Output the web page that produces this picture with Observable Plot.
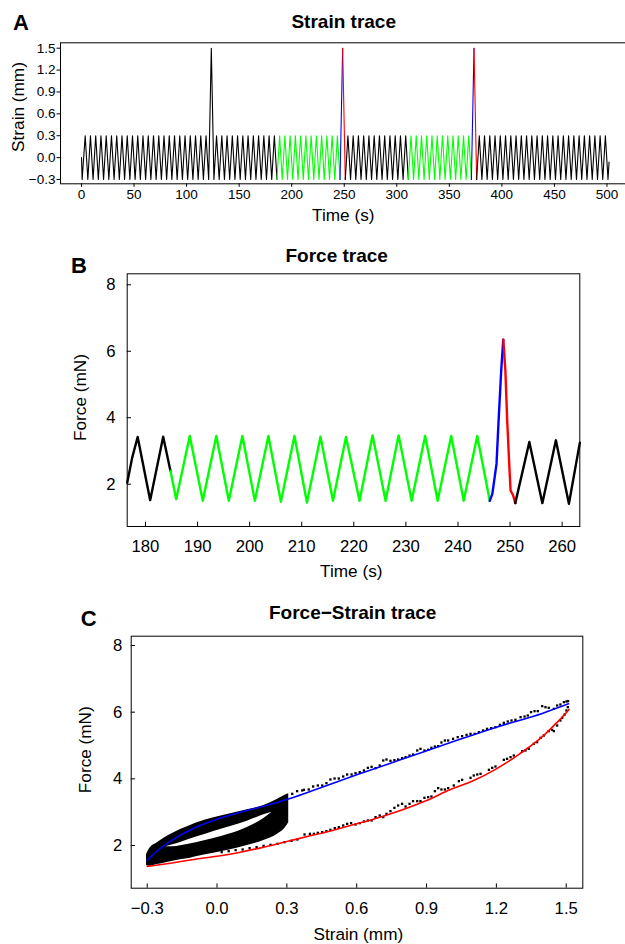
<!DOCTYPE html>
<html><head><meta charset="utf-8">
<script src="https://cdn.jsdelivr.net/npm/d3@7"></script>
<script src="https://cdn.jsdelivr.net/npm/@observablehq/plot@0.6"></script>
<style>
html,body{margin:0;padding:0;background:#fff;overflow:hidden;}
#fig{position:relative;width:625px;height:944px;overflow:hidden;background:#fff;}
#fig svg{position:absolute;left:0;}
</style></head><body><div id="fig"></div>
<script>
// ---------------- Panel A: strain trace (turning points) ----------------
const strainTime = [0, 0.6,
  3.5, 6, 8.5, 11, 13.5, 16, 18.5, 21, 23.5, 26,
  28.5, 31, 33.5, 36, 38.5, 41, 43.5, 46, 48.5, 51,
  53.5, 56, 58.5, 61, 63.5, 66, 68.5, 71, 73.5, 76,
  78.5, 81, 83.5, 86, 88.5, 91, 93.5, 96, 98.5, 101,
  103.5, 106, 108.5, 111, 113.5, 116, 118.5, 121, 123.5, 126,
  128.5, 131, 133.5, 136, 138.5, 141, 143.5, 146, 148.5, 151,
  153.5, 156, 158.5, 161, 163.5, 166, 168.5, 171, 173.5, 176,
  178.5, 181, 183.5, 186, 188.5, 191, 193.5, 196, 198.5, 201,
  203.5, 206, 208.5, 211, 213.5, 216, 218.5, 221, 223.5, 226,
  228.5, 231, 233.5, 236, 238.5, 241, 243.5, 246, 248.5, 251,
  253.5, 256, 258.5, 261, 263.5, 266, 268.5, 271, 273.5, 276,
  278.5, 281, 283.5, 286, 288.5, 291, 293.5, 296, 298.5, 301,
  303.5, 306, 308.5, 311, 313.5, 316, 318.5, 321, 323.5, 326,
  328.5, 331, 333.5, 336, 338.5, 341, 343.5, 346, 348.5, 351,
  353.5, 356, 358.5, 361, 363.5, 366, 368.5, 371, 373.5, 376,
  378.5, 381, 383.5, 386, 388.5, 391, 393.5, 396, 398.5, 401,
  403.5, 406, 408.5, 411, 413.5, 416, 418.5, 421, 423.5, 426,
  428.5, 431, 433.5, 436, 438.5, 441, 443.5, 446, 448.5, 451,
  453.5, 456, 458.5, 461, 463.5, 466, 468.5, 471, 473.5, 476,
  478.5, 481, 483.5, 486, 488.5, 491, 493.5, 496, 498.5, 501,
  502];
const strainValue = [0, -0.3,
  0.3,-0.3,0.3,-0.3,0.3,-0.3,0.3,-0.3,0.3,-0.3,
  0.3,-0.3,0.3,-0.3,0.3,-0.3,0.3,-0.3,0.3,-0.3,
  0.3,-0.3,0.3,-0.3,0.3,-0.3,0.3,-0.3,0.3,-0.3,
  0.3,-0.3,0.3,-0.3,0.3,-0.3,0.3,-0.3,0.3,-0.3,
  0.3,-0.3,0.3,-0.3,0.3,-0.3,0.3,-0.3,1.5,-0.3,
  0.3,-0.3,0.3,-0.3,0.3,-0.3,0.3,-0.3,0.3,-0.3,
  0.3,-0.3,0.3,-0.3,0.3,-0.3,0.3,-0.3,0.3,-0.3,
  0.3,-0.3,0.3,-0.3,0.3,-0.3,0.3,-0.3,0.3,-0.3,
  0.3,-0.3,0.3,-0.3,0.3,-0.3,0.3,-0.3,0.3,-0.3,
  0.3,-0.3,0.3,-0.3,0.3,-0.3,0.3,-0.3,1.5,-0.3,
  0.3,-0.3,0.3,-0.3,0.3,-0.3,0.3,-0.3,0.3,-0.3,
  0.3,-0.3,0.3,-0.3,0.3,-0.3,0.3,-0.3,0.3,-0.3,
  0.3,-0.3,0.3,-0.3,0.3,-0.3,0.3,-0.3,0.3,-0.3,
  0.3,-0.3,0.3,-0.3,0.3,-0.3,0.3,-0.3,0.3,-0.3,
  0.3,-0.3,0.3,-0.3,0.3,-0.3,0.3,-0.3,1.5,-0.3,
  0.3,-0.3,0.3,-0.3,0.3,-0.3,0.3,-0.3,0.3,-0.3,
  0.3,-0.3,0.3,-0.3,0.3,-0.3,0.3,-0.3,0.3,-0.3,
  0.3,-0.3,0.3,-0.3,0.3,-0.3,0.3,-0.3,0.3,-0.3,
  0.3,-0.3,0.3,-0.3,0.3,-0.3,0.3,-0.3,0.3,-0.3,
  0.3,-0.3,0.3,-0.3,0.3,-0.3,0.3,-0.3,0.3,-0.3,
  -0.06];
const strainSegBounds = [0, 186, 246, 248.5, 251, 311, 371, 373.5, 376, 502];
const strainSegColors = ["#000000","#00ff00","#0000ff","#ff0000","#000000","#00ff00","#0000ff","#ff0000","#000000"];
const timeTicksA = [0, 50, 100, 150, 200, 250, 300, 350, 400, 450, 500];
const strainTicks = [-0.3, 0, 0.3, 0.6, 0.9, 1.2, 1.5];

// ---------------- Panel B: force trace ----------------
const forceTime = [176.5, 177.45, 178.5, 180.9, 183.4, 184.8, 185.9, 188.5, 191.0, 193.6,
  196.0, 198.6, 201.0, 203.6, 206.0, 208.6, 211.0, 213.6, 216.0, 218.5,
  221.1, 223.6, 226.1, 228.6, 231.1, 233.7, 236.1, 238.7, 241.1, 243.7,
  246.1, 246.6, 247.4, 247.8, 248.3, 248.7, 249.1, 249.45, 249.9, 250.1,
  250.6, 251.0, 253.7, 256.2, 258.8, 261.3, 263.4];
const forceValue = [2.05, 2.8, 3.42, 1.52, 3.43, 2.4, 1.55, 3.45, 1.5, 3.45,
  1.5, 3.45, 1.5, 3.45, 1.47, 3.45, 1.45, 3.43, 1.5, 3.42,
  1.5, 3.47, 1.5, 3.47, 1.5, 3.45, 1.5, 3.45, 1.5, 3.45,
  1.5, 1.71, 2.61, 3.92, 5.42, 6.35, 5.42, 3.92, 2.41, 1.81,
  1.66, 1.43, 3.27, 1.43, 3.32, 1.41, 3.25];
const forceSegBounds = [176.5, 184.8, 246.1, 248.7, 251.0, 263.4];
const forceSegColors = ["#000000","#00ff00","#0000ff","#ff0000","#000000"];
const timeTicksB = [180, 190, 200, 210, 220, 230, 240, 250, 260];
const forceTicks = [2, 4, 6, 8];

// ---------------- Panel C: force-strain ----------------
const loadStrain = [-0.3, -0.25, -0.2, -0.1, 0, 0.1, 0.2, 0.3, 0.4, 0.6, 0.8, 1.0, 1.2, 1.4, 1.51];
const loadForce  = [1.55, 1.88, 2.13, 2.52, 2.79, 3.0, 3.18, 3.38, 3.62, 4.12, 4.6, 5.08, 5.55, 5.97, 6.25];
const unloadStrain = [-0.3, -0.2, -0.1, 0, 0.1, 0.2, 0.3, 0.4, 0.5, 0.6, 0.7, 0.8, 0.9, 1.0, 1.1, 1.2, 1.3, 1.4, 1.45, 1.5, 1.512];
const unloadForce  = [1.37, 1.47, 1.58, 1.68, 1.80, 1.95, 2.12, 2.29, 2.46, 2.65, 2.85, 3.08, 3.35, 3.67, 3.94, 4.30, 4.75, 5.28, 5.62, 5.98, 6.08];
// dense cycling cloud (outer envelope) and the empty lens inside it
const bandStrain = [-0.303, -0.29, -0.257, -0.228, -0.2, -0.157, -0.114, -0.085, -0.014, 0.058, 0.13, 0.201, 0.258, 0.29, 0.308];
const bandLow    = [1.40, 1.38, 1.43, 1.47, 1.51, 1.57, 1.62, 1.67, 1.77, 1.87, 2.0, 2.15, 2.33, 2.5, 2.68];
const bandHigh   = [1.72, 1.90, 2.08, 2.22, 2.33, 2.48, 2.60, 2.68, 2.83, 2.95, 3.07, 3.20, 3.38, 3.5, 3.55];
const holeStrain = [-0.221, -0.19, -0.157, -0.085, -0.014, 0.058, 0.13, 0.201, 0.236];
const holeLow    = [1.96, 1.96, 1.99, 2.09, 2.21, 2.35, 2.54, 2.81, 3.0];
const holeHigh   = [1.96, 2.02, 2.09, 2.26, 2.42, 2.57, 2.73, 2.92, 3.0];
// individual samples along the large loops
const dotStrain = [0.323,0.344,0.366,0.373,0.394,0.413,0.433,0.452,0.470,0.487,0.505,0.523,0.542,0.559,0.578,0.595,0.613,0.631,0.648,0.664,0.681,0.699,0.714,0.728,0.745,0.762,0.778,0.795,0.810,0.827,0.842,0.860,0.874,0.891,0.907,0.921,0.936,0.950,0.964,0.979,0.993,
  1.014,1.034,1.053,1.072,1.089,1.107,1.125,1.143,1.160,1.178,1.196,1.215,1.232,1.249,1.265,1.282,1.304,1.321,1.335,1.349,1.364,1.378,1.397,1.411,1.425,1.447,1.461,1.475,1.490,1.501,1.508,
  0.02,0.05,0.08,0.11,0.14,0.17,0.20,0.23,0.26,0.29,0.32,0.345,0.376,0.399,0.416,0.433,0.452,0.470,0.487,0.506,0.523,0.542,0.559,0.576,0.595,0.613,0.631,0.648,0.664,0.681,0.699,0.714,0.728,0.745,0.762,0.778,0.795,0.810,0.827,0.842,0.860,0.874,0.891,0.907,0.921,0.936,0.950,0.964,0.979,0.993,
  1.017,1.039,1.053,1.089,1.103,1.118,1.132,1.168,1.182,1.196,1.232,1.246,1.261,1.275,1.311,1.325,1.339,1.361,1.375,1.390,1.404,1.425,1.440,1.447,1.461,1.475,1.483,1.493,1.501,1.507];
const dotForce = [3.55,3.63,3.65,3.67,3.68,3.77,3.80,3.80,3.87,3.98,4.01,4.01,4.07,4.13,4.13,4.17,4.20,4.25,4.33,4.36,4.32,4.40,4.55,4.58,4.54,4.56,4.58,4.62,4.65,4.70,4.73,4.85,4.90,4.85,4.87,4.93,4.97,4.98,5.09,5.15,5.15,
  5.20,5.25,5.28,5.32,5.35,5.35,5.40,5.45,5.50,5.52,5.55,5.62,5.68,5.72,5.75,5.77,5.85,5.87,5.90,6.00,6.03,6.03,6.18,6.15,6.13,6.10,6.20,6.23,6.30,6.32,6.33,
  1.80,1.83,1.86,1.88,1.92,1.95,1.99,2.02,2.05,2.10,2.14,2.18,2.33,2.35,2.35,2.38,2.40,2.43,2.47,2.52,2.55,2.60,2.65,2.67,2.63,2.67,2.72,2.75,2.75,2.85,2.90,2.85,2.95,3.03,3.13,3.20,3.25,3.17,3.25,3.33,3.33,3.33,3.43,3.45,3.47,3.63,3.72,3.68,3.68,3.72,
  3.80,3.93,3.97,4.03,4.10,4.13,4.15,4.27,4.33,4.37,4.57,4.60,4.65,4.70,4.83,4.85,4.90,5.05,5.10,5.23,5.30,5.43,5.47,5.43,5.60,5.75,5.83,5.93,6.05,6.15];
const strainTicksC = [-0.3, 0, 0.3, 0.6, 0.9, 1.2, 1.5];

// ---------------- build ----------------
const FONT = '"Liberation Sans", Arial, Helvetica, sans-serif';
const fig = document.getElementById("fig");

function segRows(times, values, bounds, colors) {
  const rows = [];
  for (let s = 0; s < colors.length; s++) {
    for (let i = 0; i < times.length; i++) {
      if (times[i] >= bounds[s] && times[i] <= bounds[s + 1]) rows.push({t: times[i], v: values[i], seg: s, color: colors[s]});
    }
  }
  return rows;
}
function place(svg, top) {
  svg.style.position = "absolute";
  svg.style.left = "0px";
  svg.style.top = top + "px";
  svg.style.maxWidth = "none";
  svg.style.background = "transparent";
  svg.style.overflow = "visible";
  fig.appendChild(svg);
}
const baseStyle = (fs) => ({fontFamily: FONT, fontSize: fs, color: "#000", background: "transparent", maxWidth: "none", overflow: "visible"});

// Panel A
const rowsA = segRows(strainTime, strainValue, strainSegBounds, strainSegColors);
const plotA = Plot.plot({
  width: 628, height: 230,
  marginLeft: 60, marginRight: 2, marginTop: 42.3, marginBottom: 46.7,
  style: baseStyle("13.5px"),
  x: {domain: [-20, 518.6], ticks: timeTicksA, tickSize: 3.5, tickPadding: 2.5, tickFormat: d3.format("d"), label: null},
  y: {domain: [-0.359, 1.574], ticks: strainTicks, tickSize: 3.5, tickPadding: 1.5, tickFormat: d3.format(".1f"), label: null},
  color: {type: "identity"},
  marks: [
    Plot.line(rowsA, {x: "t", y: "v", z: "seg", stroke: "color", strokeWidth: 1.1}),
    Plot.frame({stroke: "#000", strokeWidth: 1})
  ]
});
place(plotA, 0);

// Panel B
const rowsB = segRows(forceTime, forceValue, forceSegBounds, forceSegColors);
const hB = 360, mtB = 43.3, mbB = 64, mlB = 126.7, mrB = 45.7;
const plotB = Plot.plot({
  width: 625, height: hB,
  marginLeft: mlB, marginRight: mrB, marginTop: mtB, marginBottom: mbB,
  style: baseStyle("16.7px"),
  x: {domain: [176.49, 263.39], ticks: timeTicksB, tickSize: 0, tickPadding: 13.8, tickFormat: d3.format("d"), label: null},
  y: {domain: [0.727, 8.331], ticks: forceTicks, tickSize: 0, tickPadding: 11.7, tickFormat: d3.format("d"), label: null},
  color: {type: "identity"},
  marks: [
    Plot.tickX(timeTicksB, {x: d => d, insetTop: (hB - mtB - mbB) - 4.3, stroke: "#000"}),
    Plot.tickY(forceTicks, {y: d => d, insetRight: (625 - mlB - mrB) - 4.3, stroke: "#000"}),
    Plot.line(rowsB, {x: "t", y: "v", z: "seg", stroke: "color", strokeWidth: 2.4}),
    Plot.frame({stroke: "#000", strokeWidth: 1})
  ]
});
place(plotB, 230);

// Panel C
const hC = 349, mtC = 40.7, mbC = 56.3, mlC = 130.7, mrC = 42.7;
const loadRows = loadStrain.map((s, i) => ({s, f: loadForce[i]}));
const unloadRows = unloadStrain.map((s, i) => ({s, f: unloadForce[i]}));
const bandRows = bandStrain.map((s, i) => ({s, lo: bandLow[i], hi: bandHigh[i]}));
const holeRows = holeStrain.map((s, i) => ({s, lo: holeLow[i], hi: holeHigh[i]}));
const dotRows = dotStrain.map((s, i) => ({s, f: dotForce[i]}));
const plotC = Plot.plot({
  width: 625, height: hC,
  marginLeft: mlC, marginRight: mrC, marginTop: mtC, marginBottom: mbC,
  style: baseStyle("16.7px"),
  x: {domain: [-0.3687, 1.5713], ticks: strainTicksC, tickSize: 0, tickPadding: 13.7, tickFormat: d3.format(".1f"), label: null},
  y: {domain: [0.719, 8.279], ticks: forceTicks, tickSize: 0, tickPadding: 9, tickFormat: d3.format("d"), label: null},
  marks: [
    Plot.tickX(strainTicksC, {x: d => d, insetTop: (hC - mtC - mbC) - 4.3, stroke: "#000"}),
    Plot.tickY(forceTicks, {y: d => d, insetRight: (625 - mlC - mrC) - 4.3, stroke: "#000"}),
    Plot.areaY(bandRows, {x: "s", y1: "lo", y2: "hi", fill: "#000", curve: "monotone-x"}),
    Plot.areaY(holeRows, {x: "s", y1: "lo", y2: "hi", fill: "#fff", curve: "monotone-x"}),
    Plot.dot(dotRows, {x: "s", y: "f", r: 1.3, symbol: "square", fill: "#000", stroke: null}),
    Plot.line(unloadRows, {x: "s", y: "f", stroke: "#ff0000", strokeWidth: 1.6, curve: "monotone-x"}),
    Plot.line(loadRows, {x: "s", y: "f", stroke: "#0000ff", strokeWidth: 1.6, curve: "monotone-x"}),
    Plot.frame({stroke: "#000", strokeWidth: 1})
  ]
});
place(plotC, 595);

// Text overlay: panel letters, titles, axis titles
const texts = [
  {t: "A", x: 13, y: 30, size: 22, bold: true, anchor: "start"},
  {t: "Strain trace", x: 343.7, y: 28.3, size: 19, bold: true},
  {t: "Time (s)", x: 343.3, y: 220.5, size: 17.2},
  {t: "Strain (mm)", x: 24, y: 107, size: 17.2, rot: true},
  {t: "B", x: 71, y: 272.7, size: 22, bold: true, anchor: "start"},
  {t: "Force trace", x: 336.7, y: 261.7, size: 19, bold: true},
  {t: "Time (s)", x: 351.3, y: 577.3, size: 17.2},
  {t: "Force (mN)", x: 85.6, y: 397.5, size: 17.2, rot: true},
  {t: "C", x: 80.7, y: 626, size: 22, bold: true, anchor: "start"},
  {t: "Force\u2212Strain trace", x: 352.7, y: 619.3, size: 19, bold: true},
  {t: "Strain (mm)", x: 358.3, y: 939.6, size: 17.2},
  {t: "Force (mN)", x: 90.6, y: 749.7, size: 17.2, rot: true}
];
const over = d3.select(fig).append("svg")
  .attr("width", 625).attr("height", 944)
  .style("top", "0px").style("left", "0px").style("pointer-events", "none")
  .attr("font-family", FONT);
over.selectAll("text").data(texts).join("text")
  .attr("transform", d => d.rot ? `translate(${d.x},${d.y}) rotate(-90)` : `translate(${d.x},${d.y})`)
  .attr("text-anchor", d => d.anchor || "middle")
  .attr("font-size", d => d.size)
  .attr("font-weight", d => d.bold ? "bold" : "normal")
  .attr("fill", "#000")
  .text(d => d.t);
</script>
</body></html>
